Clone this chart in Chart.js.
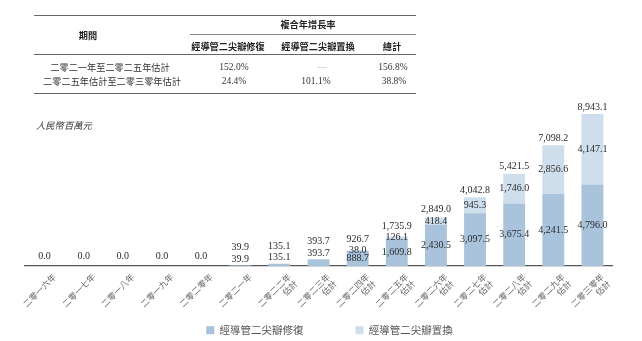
<!DOCTYPE html>
<html>
<head>
<meta charset="utf-8">
<script src="https://cdn.jsdelivr.net/npm/chart.js@4.4.0/dist/chart.umd.min.js"></script>
<style>
  body { margin: 0; background: #fff; }
  #wrap { position: relative; width: 642px; height: 341px; overflow: hidden; }
  #chart { position: absolute; left: 0; top: 0; }
  .rule { position: absolute; height: 0; border-top: 1px solid #666; }
  .txt { position: absolute; transform: translate(-50%, -50%); white-space: nowrap; color: #333; }
  .cjk { font-family: "Noto Sans CJK TC", sans-serif; font-size: 9.2px; }
  .num { font-family: "Liberation Serif", serif; font-size: 9.5px; }
  .hd { font-weight: bold; color: #222; }
  #unit { position: absolute; left: 36px; top: 118px; font-family: "Noto Sans CJK TC", sans-serif;
          font-size: 9.3px; font-style: italic; color: #333; }
</style>
</head>
<body>
<div id="wrap">
  <canvas id="chart" width="642" height="341"></canvas>

  <!-- CAGR table -->
  <div class="rule" style="left:34px;width:382px;top:15px;border-top-width:1.5px;"></div>
  <div class="txt cjk hd" style="left:308px;top:24px;">複合年增長率</div>
  <div class="rule" style="left:190px;width:226px;top:33.5px;border-top-color:#888;"></div>
  <div class="txt cjk hd" style="left:88px;top:35px;">期間</div>
  <div class="txt cjk hd" style="left:228px;top:46px;">經導管二尖瓣修復</div>
  <div class="txt cjk hd" style="left:318px;top:46px;">經導管二尖瓣置換</div>
  <div class="txt cjk hd" style="left:392px;top:46px;">總計</div>
  <div class="rule" style="left:34px;width:382px;top:54px;"></div>
  <div class="txt cjk" style="left:110px;top:67px;">二零二一年至二零二五年估計</div>
  <div class="txt num" style="left:234px;top:67px;">152.0%</div>
  <div class="txt num" style="left:322px;top:67px;color:#bbb;">—</div>
  <div class="txt num" style="left:393px;top:67px;">156.8%</div>
  <div class="txt cjk" style="left:112px;top:80.5px;">二零二五年估計至二零三零年估計</div>
  <div class="txt num" style="left:234px;top:80.5px;">24.4%</div>
  <div class="txt num" style="left:316px;top:80.5px;">101.1%</div>
  <div class="txt num" style="left:394px;top:80.5px;">38.8%</div>
  <div class="rule" style="left:34px;width:382px;top:93px;border-top-width:1.5px;"></div>

  <div id="unit">人民幣百萬元</div>
</div>

<script>
// data
var yearLabels = [
    ['二零一六年'], ['二零一七年'], ['二零一八年'], ['二零一九年'], ['二零二零年'],
    ['二零二一年'], ['二零二二年', '估計'], ['二零二三年', '估計'], ['二零二四年', '估計'],
    ['二零二五年', '估計'], ['二零二六年', '估計'], ['二零二七年', '估計'],
    ['二零二八年', '估計'], ['二零二九年', '估計'], ['二零三零年', '估計']
];
var repairValues = [0, 0, 0, 0, 0, 39.9, 135.1, 393.7, 888.7, 1609.8, 2430.5, 3097.5, 3675.4, 4241.5, 4796.0];
var replaceValues = [0, 0, 0, 0, 0, 0, 0, 0, 38.0, 126.1, 418.4, 945.3, 1746.0, 2856.6, 4147.1];
var totalValues = [0, 0, 0, 0, 0, 39.9, 135.1, 393.7, 926.7, 1735.9, 2849.0, 4042.8, 5421.5, 7098.2, 8943.1];
var seriesNames = ['經導管二尖瓣修復', '經導管二尖瓣置換'];

var repairColor = '#a9c3dc';
var replaceColor = '#cfdeec';

function fmt(v) {
    return v.toLocaleString('en-US', { minimumFractionDigits: 1, maximumFractionDigits: 1 });
}

// value labels inside / above the bars
var valueLabels = {
    id: 'valueLabels',
    afterDatasetsDraw: function (chart) {
        var ctx = chart.ctx;
        var y = chart.scales.y;
        var meta0 = chart.getDatasetMeta(0);
        var base = y.getPixelForValue(0);
        ctx.save();
        ctx.font = '10px "Liberation Serif", serif';
        ctx.fillStyle = '#2a2a2a';
        ctx.textAlign = 'center';
        ctx.textBaseline = 'middle';
        for (var i = 0; i < totalValues.length; i++) {
            var x = meta0.data[i].x;
            var rep = repairValues[i], rpl = replaceValues[i], tot = totalValues[i];
            var repTop = y.getPixelForValue(rep);
            var lastY = null;
            if (rep > 0) {
                var ry = (base - repTop >= 12) ? (base + repTop) / 2 : repTop - 6;
                ctx.fillText(fmt(rep), x, ry);
                lastY = ry;
            }
            if (rpl > 0) {
                var segTop = y.getPixelForValue(rep + rpl);
                var py = (repTop + segTop) / 2;
                ctx.fillText(fmt(rpl), x, py);
                lastY = py;
            }
            var ty;
            if (tot === 0) {
                ty = base - 10;
            } else {
                ty = y.getPixelForValue(tot) - 7;
                if (lastY !== null && lastY - 11.5 < ty) ty = lastY - 11.5;
            }
            ctx.fillText(fmt(tot), x, ty);
        }
        ctx.restore();
    }
};

// move the legend to where the reference has it (and keep its clip box big enough)
var legendShift = {
    id: 'legendShift',
    afterLayout: function (chart) {
        var lg = chart.legend;
        lg.left += 11; lg.right += 11;
        lg.top -= 38;
        lg.bottom = chart.height;
        lg.height = lg.bottom - lg.top;
    }
};

var chart = new Chart(document.getElementById('chart'), {
    type: 'bar',
    data: {
        labels: yearLabels,
        datasets: [{
            label: seriesNames[0],
            data: repairValues,
            backgroundColor: repairColor,
            borderWidth: 0
        }, {
            label: seriesNames[1],
            data: replaceValues,
            backgroundColor: replaceColor,
            borderWidth: 0
        }]
    },
    options: {
        responsive: false,
        animation: false,
        events: [],
        categoryPercentage: 1.0,
        barPercentage: 0.56,
        layout: { padding: { left: 25, right: 30, top: 96, bottom: 0 } },
        scales: {
            x: {
                stacked: true,
                grid: { display: false },
                border: { display: true, color: '#555', width: 1.2 },
                ticks: {
                    minRotation: 45,
                    maxRotation: 45,
                    autoSkip: false,
                    padding: -2,
                    labelOffset: 10,
                    color: '#666',
                    font: { family: '"Noto Sans CJK TC", sans-serif', size: 8.5, lineHeight: 1.1 }
                },
                afterFit: function (scale) { scale.height = 45; }
            },
            y: {
                stacked: true,
                display: false,
                min: 0,
                max: 10000
            }
        },
        plugins: {
            legend: {
                position: 'bottom',
                maxHeight: 30,
                labels: {
                    boxWidth: 8,
                    boxHeight: 8,
                    padding: 52,
                    color: '#555',
                    font: { family: '"Noto Sans CJK TC", sans-serif', size: 10.5 }
                }
            },
            tooltip: { enabled: false }
        }
    },
    plugins: [valueLabels, legendShift]
});
</script>
</body>
</html>
